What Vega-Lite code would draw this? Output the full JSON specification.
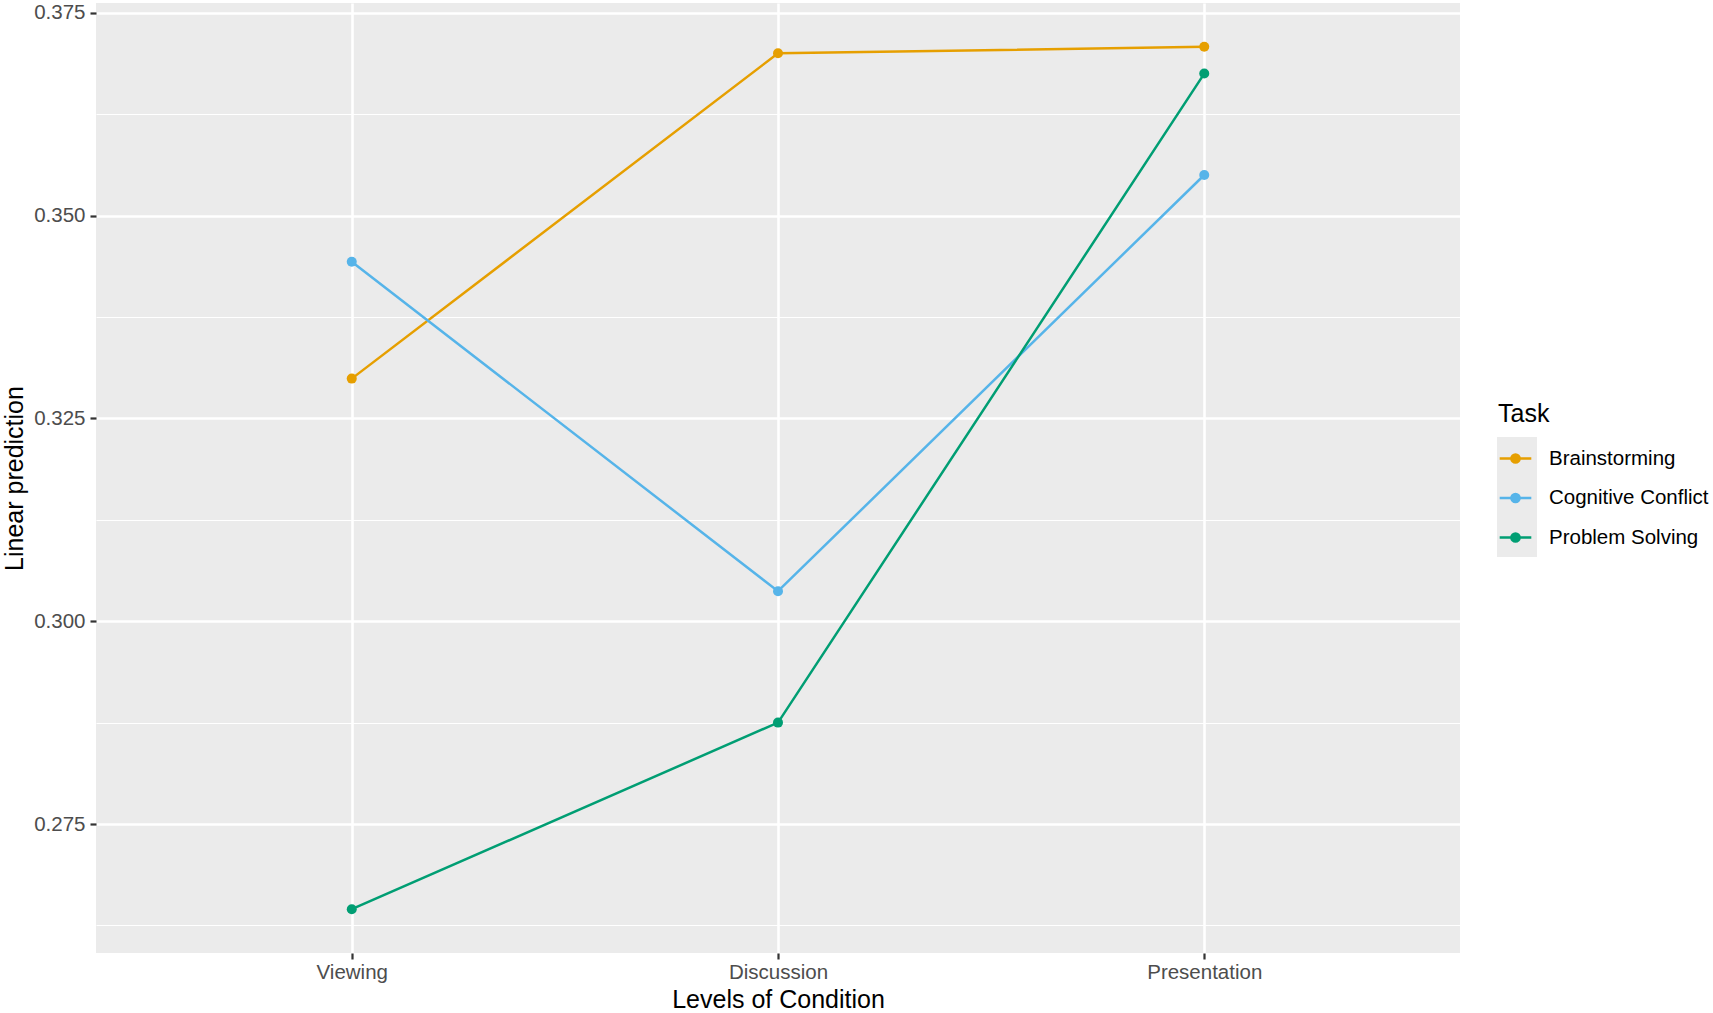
{
  "$schema": "https://vega.github.io/schema/vega-lite/v6.json",
  "autosize": {"type": "none"},
  "width": 1364,
  "height": 950,
  "padding": {"left": 96, "top": 3, "right": 253, "bottom": 60},
  "background": "white",
  "config": {
    "view": {"fill": "#EBEBEB", "stroke": null},
    "font": "Liberation Sans"
  },
  "data": {
    "values": [
      {"condition": "Viewing", "task": "Brainstorming", "pred": 0.3299},
      {"condition": "Discussion", "task": "Brainstorming", "pred": 0.3700},
      {"condition": "Presentation", "task": "Brainstorming", "pred": 0.3708},
      {"condition": "Viewing", "task": "Cognitive Conflict", "pred": 0.3443},
      {"condition": "Discussion", "task": "Cognitive Conflict", "pred": 0.3037},
      {"condition": "Presentation", "task": "Cognitive Conflict", "pred": 0.3550},
      {"condition": "Viewing", "task": "Problem Solving", "pred": 0.2645},
      {"condition": "Discussion", "task": "Problem Solving", "pred": 0.2875},
      {"condition": "Presentation", "task": "Problem Solving", "pred": 0.3675}
    ]
  },
  "encoding": {
    "x": {
      "field": "condition", "type": "ordinal",
      "sort": ["Viewing", "Discussion", "Presentation"],
      "scale": {"type": "point", "padding": 0.6},
      "axis": {
        "title": "Levels of Condition", "labelAngle": 0,
        "labelFontSize": 20.5, "labelColor": "#4D4D4D", "labelPadding": 3,
        "tickColor": "#333333", "tickSize": 6, "tickWidth": 2.2,
        "domain": false, "grid": true, "gridColor": "#FFFFFF", "gridWidth": 2.6,
        "titleFontSize": 25, "titleFontWeight": "normal", "titleColor": "#000000", "titlePadding": 5
      }
    }
  },
  "layer": [
    {
      "mark": {"type": "point", "filled": true, "color": "#EBEBEB", "opacity": 0},
      "encoding": {
        "y": {
          "field": "pred", "type": "quantitative",
          "scale": {"domain": [0.2591, 0.3762], "nice": false, "zero": false},
          "axis": {
            "orient": "right", "values": [0.2625, 0.2875, 0.3125, 0.3375, 0.3625],
            "labels": false, "ticks": false, "domain": false, "title": null,
            "grid": true, "gridColor": "#FFFFFF", "gridWidth": 1.2
          }
        },
        "shape": {
          "field": "task", "type": "nominal",
          "scale": {
            "domain": ["Problem Solving", "Cognitive Conflict", "Brainstorming"],
            "range": ["square", "square", "square"]
          },
          "legend": {
            "title": null, "orient": "none", "legendX": 1401, "legendY": 434,
            "labelExpr": "''", "labelFontSize": 1, "labelOffset": 0,
            "symbolSize": 1600, "symbolFillColor": "#EBEBEB", "symbolStrokeColor": "#EBEBEB",
            "symbolStrokeWidth": 0, "symbolOpacity": 1, "rowPadding": 0, "padding": 0,
            "zindex": 0
          }
        }
      }
    },
    {
      "mark": {"type": "line", "strokeWidth": 2.5, "point": {"filled": true, "size": 100, "opacity": 1}},
      "encoding": {
        "y": {
          "field": "pred", "type": "quantitative",
          "scale": {"domain": [0.2591, 0.3762], "nice": false, "zero": false},
          "axis": {
            "title": "Linear prediction", "values": [0.275, 0.3, 0.325, 0.35, 0.375],
            "format": ".3f",
            "labelFontSize": 20.5, "labelColor": "#4D4D4D", "labelPadding": 5,
            "tickColor": "#333333", "tickSize": 6, "tickWidth": 2.2,
            "domain": false, "grid": true, "gridColor": "#FFFFFF", "gridWidth": 2.6,
            "titleFontSize": 25, "titleFontWeight": "normal", "titleColor": "#000000", "titlePadding": 6
          }
        },
        "color": {
          "field": "task", "type": "nominal",
          "scale": {
            "domain": ["Brainstorming", "Cognitive Conflict", "Problem Solving"],
            "range": ["#E69F00", "#56B4E9", "#009E73"]
          },
          "legend": {
            "title": "Task", "orient": "none", "legendX": 1402, "legendY": 399,
            "titleFontSize": 25, "titleFontWeight": "normal", "titleColor": "#000000", "titlePadding": 14,
            "labelFontSize": 20.5, "labelColor": "#000000", "labelOffset": 16,
            "symbolType": "M-1,0L1,0M-0.26,0A0.26,0.26 0 1,1 0.26,0A0.26,0.26 0 1,1 -0.26,0M-0.13,0A0.13,0.13 0 1,1 0.13,0A0.13,0.13 0 1,1 -0.13,0M-0.04,0A0.04,0.04 0 1,1 0.04,0A0.04,0.04 0 1,1 -0.04,0",
            "symbolSize": 1000, "symbolStrokeWidth": 2.5, "rowPadding": 11.5,
            "zindex": 1
          }
        }
      }
    }
  ],
  "resolve": {"axis": {"y": "independent"}}
}
